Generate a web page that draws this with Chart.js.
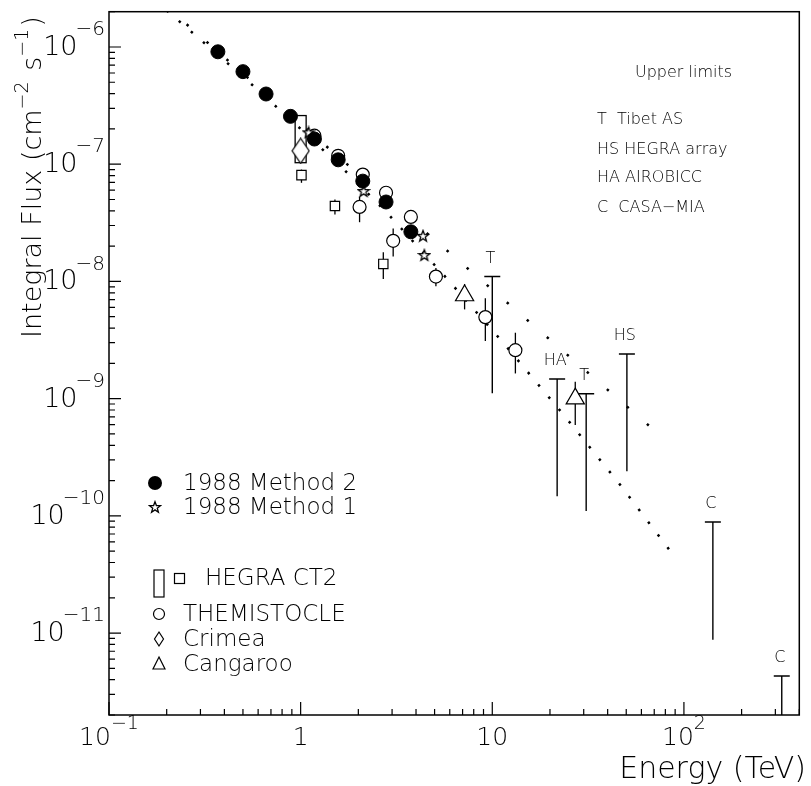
<!DOCTYPE html>
<html>
<head>
<meta charset="utf-8">
<script src="https://cdn.jsdelivr.net/npm/chart.js@4.4.1/dist/chart.umd.min.js"></script>
<style>
  html, body { margin: 0; padding: 0; background: #fff; }
  #wrap { width: 811px; height: 786px; }
</style>
</head>
<body>
<div id="wrap"><canvas id="fluxChart" width="811" height="786"></canvas></div>
<script>
// 1988 Method 2 (filled circles)
const method2E = [0.37, 0.50, 0.66, 0.885, 1.18, 1.57, 2.11, 2.79, 3.76];
const method2F = [9.1e-7, 6.16e-7, 3.97e-7, 2.56e-7, 1.64e-7, 1.09e-7, 7.17e-8, 4.76e-8, 2.65e-8];

// 1988 Method 1 (stars)
const method1E = [1.10, 2.13, 4.35, 4.42];
const method1F = [1.87e-7, 5.9e-8, 2.45e-8, 1.68e-8];

// open circles sitting just above the method 2 points
const openE = [1.18, 1.57, 2.11, 2.79, 3.76];
const openF = [1.75e-7, 1.18e-7, 8.16e-8, 5.71e-8, 3.55e-8];

// THEMISTOCLE
const themE = [2.03, 3.04, 5.08, 9.2, 13.2];
const themF = [4.32e-8, 2.22e-8, 1.1e-8, 4.96e-9, 2.59e-9];
const themLo = [3.2e-8, 1.63e-8, 9.1e-9, 3.1e-9, 1.64e-9];
const themHi = [5.3e-8, 2.83e-8, 1.3e-8, 7.2e-9, 3.65e-9];

// HEGRA CT2 (squares + systematic box at 1 TeV)
const hegraE = [1.01, 1.51, 2.70];
const hegraF = [8.07e-8, 4.4e-8, 1.41e-8];
const hegraLo = [6.94e-8, 3.73e-8, 1.05e-8];
const hegraHi = [9.0e-8, 5.0e-8, 1.77e-8];
const hegraBoxE = 1.0;
const hegraBoxLo = 1.03e-7;
const hegraBoxHi = 2.6e-7;

// Crimea
const crimeaE = [1.0];
const crimeaF = [1.3e-7];

// Cangaroo
const cangE = [7.17, 27.1];
const cangF = [7.58e-9, 1.0e-9];
const cangLo = [5.77e-9, 5.97e-10];
const cangHi = [9.5e-9, 1.39e-9];

// upper limits
const ulLabel = ['T', 'HA', 'T', 'HS', 'C', 'C'];
const ulE = [10.0, 21.8, 30.9, 50.4, 141.6, 324];
const ulTop = [1.1e-8, 1.47e-9, 1.1e-9, 2.4e-9, 8.85e-11, 4.3e-12];
const ulBottom = [1.11e-9, 1.47e-10, 1.1e-10, 2.4e-10, 8.75e-12, 4.3e-13];

// dotted curves
const fitAE = [0.2, 1.0, 10, 80];
const fitAF = [2.2e-6, 2.2e-7, 8.5e-9, 4.45e-10];
const fitBE = [0.2, 0.5, 1.0, 1.8, 2.86, 5.73, 11.4, 22.9, 46, 91];
const fitBF = [2.05e-6, 5.6e-7, 2.0e-7, 8.1e-8, 3.76e-8, 1.08e-8, 3.0e-9, 7.7e-10, 1.88e-10, 4.3e-11];

// axis ranges
const xMin = 0.1, xMax = 400;
const yMin = 2e-12, yMax = 2e-6;

const pts = (xs, ys) => xs.map((x, i) => ({ x: x, y: ys[i] }));
const FONT = '"DejaVu Sans", "Liberation Sans", sans-serif';
const font = (size) => '200 ' + size + 'px ' + FONT;

// little canvases used as point styles
function makeStar() {
    const c = document.createElement('canvas');
    c.width = 14; c.height = 14;
    const g = c.getContext('2d');
    g.beginPath();
    for (let i = 0; i < 10; i++) {
        const r = i % 2 === 0 ? 5.8 : 2.4;
        const a = -Math.PI / 2 + i * Math.PI / 5;
        const px = 7 + r * Math.cos(a), py = 7.5 + r * Math.sin(a);
        if (i === 0) g.moveTo(px, py); else g.lineTo(px, py);
    }
    g.closePath();
    g.fillStyle = '#fff';
    g.fill();
    g.lineWidth = 1.3;
    g.strokeStyle = '#000';
    g.stroke();
    return c;
}

function makeDiamond(w, h) {
    const c = document.createElement('canvas');
    c.width = w + 2; c.height = h + 2;
    const g = c.getContext('2d');
    g.beginPath();
    g.moveTo(1 + w / 2, 1);
    g.lineTo(1 + w, 1 + h / 2);
    g.lineTo(1 + w / 2, 1 + h);
    g.lineTo(1, 1 + h / 2);
    g.closePath();
    g.fillStyle = '#fff';
    g.fill();
    g.lineWidth = 1.2;
    g.strokeStyle = '#000';
    g.stroke();
    return c;
}

const starImg = makeStar();
const diamondImg = makeDiamond(17, 25);

// error bars drawn under the markers
const errorBars = {
    id: 'errorBars',
    beforeDatasetsDraw(chart) {
        const ctx = chart.ctx;
        const xs = chart.scales.x, ys = chart.scales.y;
        const bar = (e, lo, hi) => {
            const px = xs.getPixelForValue(e);
            ctx.beginPath();
            ctx.moveTo(px, ys.getPixelForValue(lo));
            ctx.lineTo(px, ys.getPixelForValue(hi));
            ctx.stroke();
        };
        ctx.save();
        ctx.strokeStyle = '#000';
        ctx.lineWidth = 1.3;
        themE.forEach((e, i) => bar(e, themLo[i], themHi[i]));
        hegraE.forEach((e, i) => bar(e, hegraLo[i], hegraHi[i]));
        cangE.forEach((e, i) => bar(e, cangLo[i], cangHi[i]));
        // HEGRA systematic box
        const bx = xs.getPixelForValue(hegraBoxE);
        const yTop = ys.getPixelForValue(hegraBoxHi), yBot = ys.getPixelForValue(hegraBoxLo);
        ctx.strokeRect(bx - 5.5, yTop, 11, yBot - yTop);
        ctx.restore();
    }
};

// frame, ticks, labels, upper limits and the legend
const decorations = {
    id: 'decorations',
    afterDatasetsDraw(chart) {
        const ctx = chart.ctx;
        const xs = chart.scales.x, ys = chart.scales.y;
        const a = chart.chartArea;

        ctx.save();
        ctx.beginPath();
        ctx.rect(a.left, a.top, a.right - a.left, a.bottom - a.top);
        ctx.clip();
        ctx.strokeStyle = '#000';
        ctx.lineWidth = 1.4;
        ulE.forEach((e, i) => {
            const px = xs.getPixelForValue(e);
            const yT = ys.getPixelForValue(ulTop[i]);
            const yB = ys.getPixelForValue(ulBottom[i]);
            ctx.beginPath();
            ctx.moveTo(px - 8, yT);
            ctx.lineTo(px + 8, yT);
            ctx.moveTo(px, yT);
            ctx.lineTo(px, yB);
            ctx.stroke();
            ctx.fillStyle = '#000';
            ctx.font = font(16);
            ctx.textAlign = 'center';
            ctx.textBaseline = 'middle';
            ctx.fillText(ulLabel[i], px - 2, yT - 18);
        });
        ctx.restore();
    },
    afterDraw(chart) {
        const ctx = chart.ctx;
        const xs = chart.scales.x, ys = chart.scales.y;
        const a = chart.chartArea;
        ctx.save();
        ctx.strokeStyle = '#000';
        ctx.fillStyle = '#000';

        // frame
        ctx.lineWidth = 1.5;
        ctx.strokeRect(a.left, a.top, a.right - a.left, a.bottom - a.top);

        // ticks
        ctx.lineWidth = 1.2;
        ctx.beginPath();
        for (let k = -12; k <= -5; k++) {
            for (let m = 1; m <= 9; m++) {
                const v = m * Math.pow(10, k);
                if (v < yMin || v > yMax) continue;
                const py = ys.getPixelForValue(v);
                ctx.moveTo(a.left, py);
                ctx.lineTo(a.left + (m === 1 ? 12 : 6), py);
            }
        }
        for (let k = -1; k <= 2; k++) {
            for (let m = 1; m <= 9; m++) {
                const v = m * Math.pow(10, k);
                if (v < xMin || v > xMax) continue;
                const px = xs.getPixelForValue(v);
                ctx.moveTo(px, a.bottom);
                ctx.lineTo(px, a.bottom - (m === 1 ? 13 : 6));
            }
        }
        ctx.stroke();

        // y tick labels
        ctx.textBaseline = 'middle';
        for (let k = -11; k <= -6; k++) {
            const py = ys.getPixelForValue(Math.pow(10, k));
            const exp = '\u2212' + Math.abs(k);
            ctx.font = font(20);
            const ew = ctx.measureText(exp).width;
            ctx.textAlign = 'right';
            ctx.fillText(exp, 105, py - 17);
            ctx.font = font(27);
            ctx.fillText('10', 105 - ew + 2, py + 1);
        }

        // x tick labels
        const xLab = [[0.1, '10', '\u22121'], [1, '1', ''], [10, '10', ''], [100, '10', '2']];
        xLab.forEach(([v, base, exp]) => {
            const px = xs.getPixelForValue(v);
            ctx.font = font(25);
            const bw = ctx.measureText(base).width;
            ctx.font = font(19);
            const ew = exp ? ctx.measureText(exp).width : 0;
            const x0 = px - (bw + ew) / 2;
            ctx.textAlign = 'left';
            ctx.font = font(25);
            ctx.fillText(base, x0, 738);
            if (exp) {
                ctx.font = font(19);
                ctx.fillText(exp, x0 + bw, 724);
            }
        });

        // axis titles
        ctx.font = font(30);
        ctx.textAlign = 'right';
        ctx.textBaseline = 'alphabetic';
        ctx.fillText('Energy (TeV)', 806, 778);

        ctx.save();
        ctx.translate(41, 338);
        ctx.rotate(-Math.PI / 2);
        ctx.textAlign = 'left';
        const parts = [['Integral Flux (cm', 0], ['\u22122', 1], [' s', 0], ['\u22121', 1], [')', 0]];
        let tx = 0;
        parts.forEach(([t, sup]) => {
            ctx.font = font(sup ? 19 : 27);
            ctx.fillText(t, tx, sup ? -13 : 0);
            tx += ctx.measureText(t).width + (sup ? 2 : 0);
        });
        ctx.restore();

        // upper limits key
        ctx.font = font(16);
        ctx.textAlign = 'left';
        ctx.textBaseline = 'middle';
        ctx.fillText('Upper limits', 635, 73);
        ctx.fillText('T  Tibet AS', 597, 120);
        ctx.fillText('HS HEGRA array', 597, 150);
        ctx.fillText('HA AIROBICC', 597, 178);
        ctx.fillText('C  CASA\u2212MIA', 597, 208);

        // legend
        ctx.lineWidth = 1.2;
        ctx.beginPath();
        ctx.arc(155, 483, 7, 0, Math.PI * 2);
        ctx.fill();
        ctx.drawImage(starImg, 148, 500);
        ctx.strokeRect(154, 570, 10, 27);
        ctx.strokeRect(174.5, 573.5, 10, 10);
        ctx.beginPath();
        ctx.arc(159, 614, 5.5, 0, Math.PI * 2);
        ctx.stroke();
        ctx.beginPath();
        ctx.moveTo(159, 632); ctx.lineTo(163.5, 639); ctx.lineTo(159, 646); ctx.lineTo(154.5, 639);
        ctx.closePath();
        ctx.stroke();
        ctx.beginPath();
        ctx.moveTo(159, 657); ctx.lineTo(165, 669); ctx.lineTo(153, 669);
        ctx.closePath();
        ctx.stroke();

        ctx.font = font(23);
        ctx.fillText('1988 Method 2', 183, 484);
        ctx.fillText('1988 Method 1', 183, 508);
        ctx.fillText('HEGRA CT2', 205, 579);
        ctx.fillText('THEMISTOCLE', 183, 615);
        ctx.fillText('Crimea', 183, 640);
        ctx.fillText('Cangaroo', 183, 665);
        ctx.restore();
    }
};

const ctx = document.getElementById('fluxChart').getContext('2d');

new Chart(ctx, {
    type: 'scatter',
    data: {
        datasets: [
            {
                label: '1988 Method 2',
                data: pts(method2E, method2F),
                pointStyle: 'circle',
                pointRadius: 7,
                backgroundColor: '#000',
                borderColor: '#000'
            },
            {
                label: '1988 Method 1',
                data: pts(method1E, method1F),
                pointStyle: starImg
            },
            {
                label: 'open circles',
                data: pts(openE, openF),
                pointStyle: 'circle',
                pointRadius: 6.5,
                borderWidth: 1.2,
                backgroundColor: '#fff',
                borderColor: '#000'
            },
            {
                label: 'THEMISTOCLE',
                data: pts(themE, themF),
                pointStyle: 'circle',
                pointRadius: 6.5,
                borderWidth: 1.2,
                backgroundColor: '#fff',
                borderColor: '#000'
            },
            {
                label: 'HEGRA CT2',
                data: pts(hegraE, hegraF),
                pointStyle: 'rect',
                pointRadius: 6.6,
                borderWidth: 1.2,
                backgroundColor: '#fff',
                borderColor: '#000'
            },
            {
                label: 'Crimea',
                data: pts(crimeaE, crimeaF),
                pointStyle: diamondImg
            },
            {
                label: 'Cangaroo',
                data: pts(cangE, cangF),
                pointStyle: 'triangle',
                pointRadius: 10.5,
                borderWidth: 1.2,
                backgroundColor: '#fff',
                borderColor: '#000'
            },
            {
                label: 'fit A',
                data: pts(fitAE, fitAF),
                showLine: true,
                pointRadius: 0,
                borderColor: '#000',
                borderWidth: 2.5,
                borderDash: [2.5, 24],
                fill: false
            },
            {
                label: 'fit B',
                data: pts(fitBE, fitBF),
                showLine: true,
                pointRadius: 0,
                borderColor: '#000',
                borderWidth: 2.5,
                borderDash: [2.5, 13.5],
                fill: false
            }
        ]
    },
    options: {
        responsive: false,
        animation: false,
        events: [],
        layout: { padding: { left: 109, top: 8, right: 3, bottom: 71 } },
        plugins: {
            legend: { display: false },
            tooltip: { enabled: false }
        },
        scales: {
            x: { type: 'logarithmic', min: xMin, max: xMax, display: false },
            y: { type: 'logarithmic', min: yMin, max: yMax, display: false }
        }
    },
    plugins: [errorBars, decorations]
});
</script>
</body>
</html>
